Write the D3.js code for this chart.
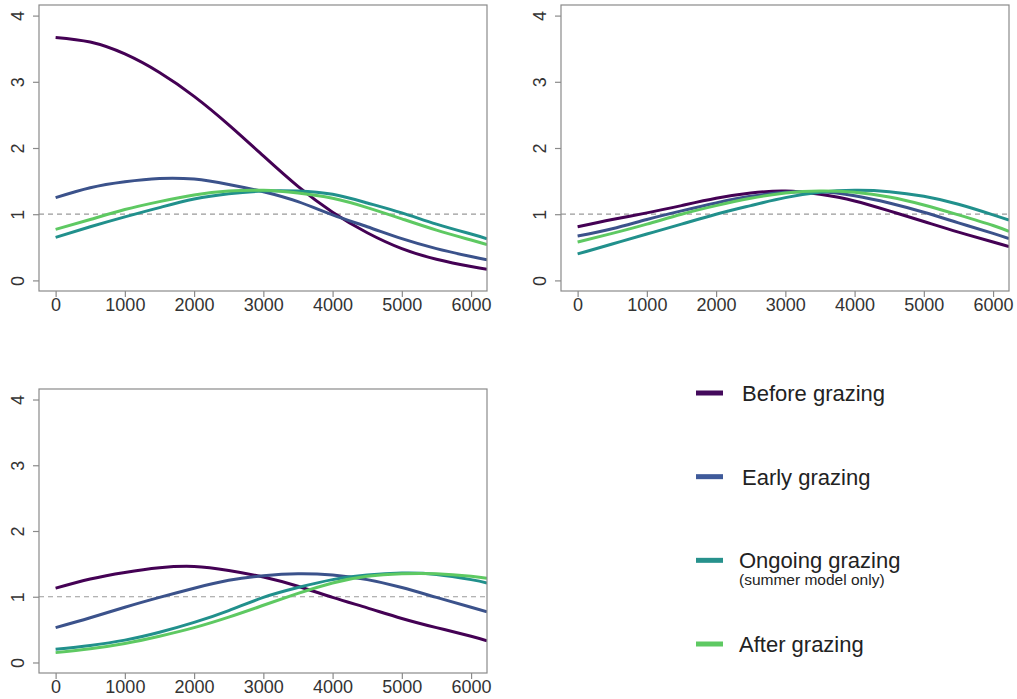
<!DOCTYPE html>
<html>
<head>
<meta charset="utf-8">
<script src="https://cdn.jsdelivr.net/npm/d3@7"></script>
<style>
  body { margin: 0; background: #fff; }
  text { font-family: "Liberation Sans", Arial, sans-serif; }
</style>
</head>
<body>
<div id="chart"></div>
<script>
// distance along x (sampled every 500, last point at panel edge)
const distance = [0, 500, 1000, 1500, 2000, 2500, 3000, 3500, 4000, 4500, 5000, 5500, 6000, 6230];

const groups = ["Before grazing", "Early grazing", "Ongoing grazing", "After grazing"];
const groupColors = ["#440154", "#3b528b", "#21908c", "#5ec962"];
const legendColors = ["#440a5c", "#3f5a9a", "#27918c", "#5ec962"];

// top-left panel
const beforeA  = [3.67, 3.60, 3.42, 3.14, 2.78, 2.35, 1.88, 1.42, 1.03, 0.72, 0.48, 0.32, 0.21, 0.17];
const earlyA   = [1.25, 1.40, 1.49, 1.54, 1.53, 1.45, 1.34, 1.19, 0.99, 0.81, 0.63, 0.48, 0.36, 0.31];
const ongoingA = [0.65, 0.81, 0.96, 1.10, 1.23, 1.31, 1.35, 1.35, 1.30, 1.17, 1.02, 0.85, 0.70, 0.63];
const afterA   = [0.77, 0.92, 1.07, 1.19, 1.29, 1.35, 1.36, 1.32, 1.24, 1.10, 0.93, 0.76, 0.61, 0.54];

// top-right panel
const beforeB  = [0.81, 0.92, 1.02, 1.13, 1.24, 1.32, 1.35, 1.30, 1.20, 1.05, 0.89, 0.73, 0.58, 0.51];
const earlyB   = [0.67, 0.78, 0.92, 1.05, 1.17, 1.27, 1.33, 1.34, 1.28, 1.17, 1.03, 0.87, 0.71, 0.63];
const ongoingB = [0.40, 0.55, 0.70, 0.85, 1.00, 1.13, 1.25, 1.33, 1.36, 1.34, 1.27, 1.15, 0.99, 0.91];
const afterB   = [0.58, 0.71, 0.85, 1.00, 1.13, 1.24, 1.32, 1.35, 1.33, 1.26, 1.14, 0.99, 0.83, 0.74];

// bottom-left panel
const beforeC  = [1.13, 1.27, 1.37, 1.44, 1.46, 1.40, 1.30, 1.16, 0.99, 0.83, 0.67, 0.53, 0.40, 0.33];
const earlyC   = [0.53, 0.68, 0.84, 0.99, 1.13, 1.25, 1.32, 1.35, 1.33, 1.26, 1.14, 0.99, 0.84, 0.77];
const ongoingC = [0.20, 0.26, 0.34, 0.46, 0.61, 0.79, 0.99, 1.14, 1.26, 1.33, 1.36, 1.34, 1.26, 1.21];
const afterC   = [0.15, 0.21, 0.29, 0.40, 0.53, 0.69, 0.87, 1.05, 1.21, 1.31, 1.35, 1.35, 1.31, 1.28];

const xTicks = [0, 1000, 2000, 3000, 4000, 5000, 6000];
const yTicks = [0, 1, 2, 3, 4];

const width = 1017, height = 699;

let svg = d3.select("#chart")
    .append("svg")
    .attr("width", width)
    .attr("height", height);

svg.append("rect").attr("width", width).attr("height", height).attr("fill", "#fff");

let panels = [
    { id: "a", left: 39,  top: 5,   w: 448, h: 286, series: [beforeA, earlyA, ongoingA, afterA] },
    { id: "b", left: 561, top: 5,   w: 448, h: 286, series: [beforeB, earlyB, ongoingB, afterB] },
    { id: "c", left: 39,  top: 389, w: 448, h: 284, series: [beforeC, earlyC, ongoingC, afterC] }
];

let axisColor = "#8a8a8a";

panels.forEach(function(p) {
    let g = svg.append("g").attr("transform", `translate(${p.left},${p.top})`);

    let x = d3.scaleLinear().domain([-240, 6230]).range([0, p.w]);
    let y = d3.scaleLinear().domain([-0.16, 4.16]).range([p.h, 0]);

    g.append("clipPath").attr("id", "clip-" + p.id)
        .append("rect").attr("width", p.w).attr("height", p.h);

    // y axis
    let yAxis = g.append("g")
        .call(d3.axisLeft(y).tickValues(yTicks).tickSize(6).tickPadding(9).tickFormat(d3.format("d")));
    yAxis.select(".domain").remove();
    yAxis.selectAll("line").attr("stroke", axisColor).attr("stroke-width", 1.2);
    yAxis.selectAll("text")
        .attr("x", null).attr("dy", null)
        .attr("transform", "translate(-15,0) rotate(-90)")
        .style("text-anchor", "middle")
        .style("font-size", "18px")
        .attr("fill", "#333");

    // x axis
    let xAxis = g.append("g")
        .attr("transform", `translate(0,${p.h})`)
        .call(d3.axisBottom(x).tickValues(xTicks).tickSize(6).tickPadding(6).tickFormat(d3.format("d")));
    xAxis.select(".domain").remove();
    xAxis.selectAll("line").attr("stroke", axisColor).attr("stroke-width", 1.2);
    xAxis.selectAll("text")
        .attr("y", 20).attr("dy", null)
        .style("font-size", "18px")
        .attr("fill", "#333");

    // reference line at 1
    g.append("line")
        .attr("x1", 0).attr("x2", p.w)
        .attr("y1", y(1)).attr("y2", y(1))
        .attr("stroke", "#9a9a9a")
        .attr("stroke-width", 1.2)
        .attr("stroke-dasharray", "5,4");

    let line = d3.line()
        .x(function(d, i) { return x(distance[i]); })
        .y(function(d) { return y(d); })
        .curve(d3.curveNatural);

    g.append("g").attr("clip-path", `url(#clip-${p.id})`)
        .selectAll("path")
        .data(p.series)
        .enter()
        .append("path")
        .attr("d", line)
        .attr("fill", "none")
        .attr("stroke", function(d, i) { return groupColors[i]; })
        .attr("stroke-width", 3);

    // box
    g.append("rect")
        .attr("width", p.w).attr("height", p.h)
        .attr("fill", "none")
        .attr("stroke", axisColor)
        .attr("stroke-width", 1.2);
});

// legend
let legendY = d3.scalePoint().domain(groups).range([393, 644]);
let legend = svg.append("g");

legend.selectAll("rect")
    .data(groups)
    .enter()
    .append("rect")
    .attr("x", 696)
    .attr("y", function(d) { return legendY(d) - 2.5; })
    .attr("width", 27)
    .attr("height", 5)
    .attr("fill", function(d, i) { return legendColors[i]; });

legend.selectAll("text.lab")
    .data(groups)
    .enter()
    .append("text")
    .attr("class", "lab")
    .attr("x", function(d, i) { return i < 2 ? 742 : 739; })
    .attr("y", function(d) { return legendY(d) + 8; })
    .style("font-size", "22px")
    .attr("fill", "#222")
    .text(function(d) { return d; });

legend.append("text")
    .attr("x", 739)
    .attr("y", legendY("Ongoing grazing") + 25)
    .style("font-size", "15.5px")
    .attr("fill", "#222")
    .text("(summer model only)");
</script>
</body>
</html>
